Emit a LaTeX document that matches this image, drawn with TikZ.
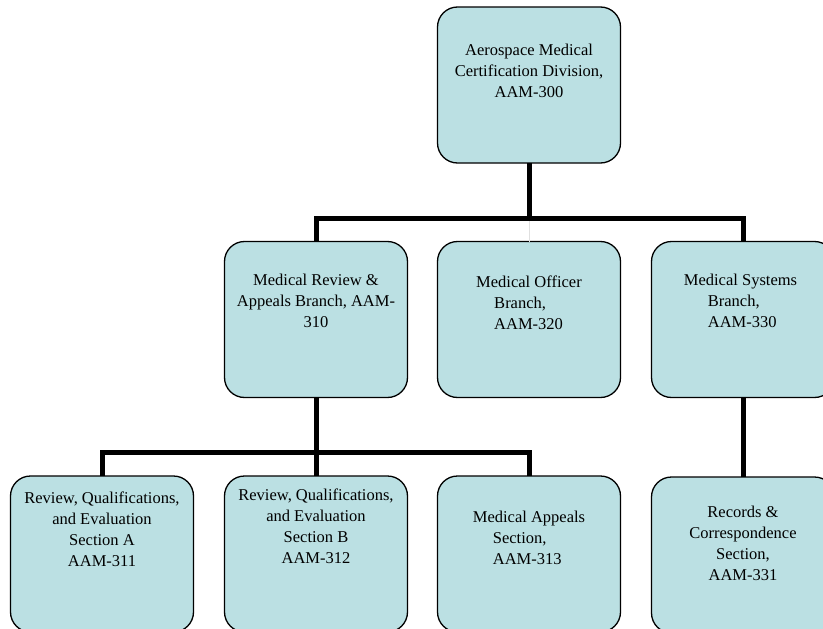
\documentclass[tikz,border=0pt]{standalone}
\usepackage{fontspec}
\setmainfont{Liberation Serif}
\definecolor{boxfill}{RGB}{187,224,227}
\tikzset{
  unit/.style={draw=black, line width=1.3pt, fill=boxfill, rounded corners=20pt,
    minimum width=183pt, minimum height=156pt, inner sep=0pt, outer sep=0pt},
  % anchored on the baseline of the last line
  unittext/.style={align=center, anchor=base, inner sep=0pt,
    font=\fontsize{16.5}{21}\selectfont},
  link/.style={line width=5pt, draw=black},
  faintlink/.style={line width=0.5pt, draw=black!12}
}
\begin{document}
\begin{tikzpicture}[x=1pt, y=-1pt]
\useasboundingbox (0,0) rectangle (823,629);
\clip (0,0) rectangle (823,629);

% division
\node[unit] (d300) at (529,85) {};
% branches
\node[unit] (d310) at (316,319.5) {};
\node[unit] (d320) at (529,319.5) {};
\node[unit] (d330) at (743,319.5) {};
% sections
\node[unit] (d311) at (102,554) {};
\node[unit] (d312) at (316,554) {};
\node[unit] (d313) at (529,554) {};
\node[unit] (d331) at (743,555) {};

% unit titles
\node[unittext] (t300) at ([yshift=-90.5pt]d300.north)
  {Aerospace Medical\\Certification Division,\\AAM-300};
\node[unittext] (t310) at ([yshift=-85.5pt]d310.north)
  {Medical Review \&\\Appeals Branch, AAM-\\310};
\node[unittext, align=left] (t320) at ([yshift=-87.5pt]d320.north)
  {Medical Officer\\\hspace*{18pt}Branch,\\\hspace*{18pt}AAM-320};
\node[unittext, align=left] (t330) at ([xshift=-2.5pt,yshift=-85.5pt]d330.north)
  {Medical Systems\\\hspace*{24pt}Branch,\\\hspace*{24pt}AAM-330};
\node[unittext] (t311) at ([yshift=-90.5pt]d311.north)
  {Review, Qualifications,\\and Evaluation\\Section A\\AAM-311};
\node[unittext] (t312) at ([yshift=-87.5pt]d312.north)
  {Review, Qualifications,\\and Evaluation\\Section B\\AAM-312};
\node[unittext, align=left] (t313) at ([yshift=-88.5pt]d313.north)
  {Medical Appeals\\\hspace*{20pt}Section,\\\hspace*{20pt}AAM-313};
\node[unittext] (t331) at ([yshift=-103.5pt]d331.north)
  {Records \&\\Correspondence\\Section,\\AAM-331};

% reporting lines
\coordinate (busA) at (529,218);
\coordinate (busB) at (316,452);
\draw[faintlink] (busA) -- (d320.north);
\draw[link] (d300.south) -- (busA);
\draw[link] (d310.north) |- (busA) -| (d330.north);
\draw[link] (d310.south) -- (d312.north);
\draw[link] (d311.north) |- (busB) -| (d313.north);
\draw[link] (d330.south) -- (d331.north);
\end{tikzpicture}
\end{document}
